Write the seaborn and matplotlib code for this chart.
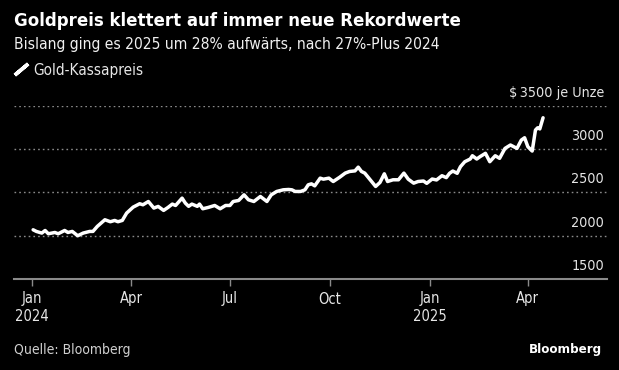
import pandas as pd
import seaborn as sns
import matplotlib.pyplot as plt
import matplotlib.dates as mdates
import matplotlib.transforms as mtransforms
from matplotlib.lines import Line2D

# Gold-Kassapreis in $ je Unze
dates = [
    "2024-01-02", "2024-01-05", "2024-01-10", "2024-01-13", "2024-01-16", "2024-01-22",
    "2024-01-25", "2024-01-31", "2024-02-03", "2024-02-07", "2024-02-12", "2024-02-17",
    "2024-02-23", "2024-02-26", "2024-03-01", "2024-03-08", "2024-03-13", "2024-03-17",
    "2024-03-20", "2024-03-24", "2024-03-28", "2024-04-03", "2024-04-09", "2024-04-12",
    "2024-04-17", "2024-04-22", "2024-04-26", "2024-05-01", "2024-05-05", "2024-05-09",
    "2024-05-12", "2024-05-18", "2024-05-21", "2024-05-24", "2024-05-27", "2024-06-01",
    "2024-06-03", "2024-06-06", "2024-06-11", "2024-06-17", "2024-06-22", "2024-06-27",
    "2024-07-01", "2024-07-04", "2024-07-09", "2024-07-14", "2024-07-18", "2024-07-23",
    "2024-07-29", "2024-08-04", "2024-08-08", "2024-08-13", "2024-08-19", "2024-08-24",
    "2024-08-27", "2024-08-30", "2024-09-04", "2024-09-08", "2024-09-11", "2024-09-14",
    "2024-09-17", "2024-09-22", "2024-09-25", "2024-09-30", "2024-10-04", "2024-10-10",
    "2024-10-15", "2024-10-19", "2024-10-24", "2024-10-27", "2024-10-30", "2024-11-02",
    "2024-11-07", "2024-11-12", "2024-11-16", "2024-11-20", "2024-11-23", "2024-11-28",
    "2024-12-03", "2024-12-08", "2024-12-12", "2024-12-17", "2024-12-21", "2024-12-26",
    "2024-12-29", "2025-01-03", "2025-01-07", "2025-01-12", "2025-01-16", "2025-01-19",
    "2025-01-22", "2025-01-26", "2025-01-29", "2025-02-02", "2025-02-07", "2025-02-09",
    "2025-02-13", "2025-02-16", "2025-02-21", "2025-02-25", "2025-03-02", "2025-03-06",
    "2025-03-11", "2025-03-16", "2025-03-22", "2025-03-26", "2025-03-29", "2025-04-01",
    "2025-04-05", "2025-04-08", "2025-04-10", "2025-04-12", "2025-04-15",
]
gold = [
    2069, 2050, 2031, 2061, 2023, 2038,
    2023, 2061, 2038, 2050, 2000, 2031,
    2050, 2050, 2108, 2185, 2162, 2177,
    2162, 2177, 2262, 2331, 2370, 2358,
    2396, 2320, 2339, 2293, 2327, 2366,
    2350, 2435, 2377, 2340, 2366, 2340,
    2366, 2312, 2327, 2350, 2312, 2350,
    2350, 2396, 2408, 2473, 2416, 2396,
    2454, 2396, 2473, 2512, 2531, 2535,
    2531, 2512, 2512, 2531, 2589, 2600,
    2577, 2666, 2654, 2666, 2627, 2677,
    2724, 2743, 2750, 2793, 2743, 2724,
    2647, 2570, 2616, 2716, 2627, 2647,
    2647, 2724, 2654, 2608, 2627, 2633,
    2606, 2656, 2645, 2694, 2672, 2722,
    2748, 2722, 2798, 2856, 2887, 2925,
    2887, 2914, 2953, 2856, 2925, 2895,
    3010, 3049, 3010, 3106, 3133, 3029,
    2979, 3222, 3248, 3235, 3364,
]

y_ticks = [1500, 2000, 2500, 3000, 3500]
y_labels = ["1500", "2000", "2500", "3000", "$\u20093500 je Unze"]
x_ticks = ["2024-01-01", "2024-04-01", "2024-07-01", "2024-10-01", "2025-01-01", "2025-04-01"]
x_labels = ["Jan\n2024", "Apr", "Jul", "Oct", "Jan\n2025", "Apr"]

df = pd.DataFrame({"Datum": pd.to_datetime(dates), "Gold-Kassapreis": gold})

sns.set_style("dark", {"axes.facecolor": "black", "figure.facecolor": "black"})
plt.rcParams['font.family'] = ['DejaVu Sans']
plt.rcParams['font.stretch'] = 'condensed'

W, H = 619, 370
fig = plt.figure(figsize=(W / 100, H / 100), dpi=100, facecolor="black")
ax = fig.add_axes([14 / W, 1 - 279 / H, (607 - 14) / W, (279 - 106) / H])
ax.set_facecolor("black")

sns.lineplot(data=df, x="Datum", y="Gold-Kassapreis", color="white", lw=2.5, ax=ax)

x0 = mdates.date2num(pd.Timestamp("2024-01-01"))
ax.set_xlim(x0 - 16.6, x0 + 528.8)
ax.set_ylim(1500, 3500)

# Gitterlinien
for v in y_ticks[1:]:
    ax.axhline(v, color="#8a8a8a", lw=1, ls=(0, (1.2, 2.2)), zorder=0)

# Y-Beschriftung oberhalb der Linien, rechts
trans = mtransforms.offset_copy(ax.get_yaxis_transform(), fig=fig, x=0, y=13, units="dots")
for v, lab in zip(y_ticks, y_labels):
    ax.text(0.995, v, lab, transform=trans, ha="right", va="center",
            color="#e6e6e6", fontsize=10.3, clip_on=False)
ax.set_yticks([])
ax.set_ylabel("")
ax.set_xlabel("")

ax.set_xticks(pd.to_datetime(x_ticks))
ax.set_xticklabels(x_labels, color="#e6e6e6", fontsize=10.5, linespacing=1.2)
ax.tick_params(axis="x", length=5, width=1, color="#8a8a8a", pad=4, bottom=True)

for s in ["top", "left", "right"]:
    ax.spines[s].set_visible(False)
ax.spines["bottom"].set_color("#8a8a8a")
ax.spines["bottom"].set_linewidth(1.5)

# Titel, Untertitel, Legende, Fußzeile
fig.text(14 / W, 1 - 21 / H, "Goldpreis klettert auf immer neue Rekordwerte",
         color="white", fontsize=13.3, fontweight="bold", va="center", ha="left")
fig.text(14 / W, 1 - 44 / H, "Bislang ging es 2025 um 28% aufwärts, nach 27%-Plus 2024",
         color="#f0f0f0", fontsize=11.2, va="center", ha="left")

handle = Line2D([], [], color="white", linestyle="none", marker=(2, 2, -50),
                markersize=12.5, markeredgewidth=2.6)
fig.legend(handles=[handle], labels=["Gold-Kassapreis"], loc="center left",
           bbox_to_anchor=(0 / W, 1 - 70 / H), frameon=False, fontsize=11,
           labelcolor="#e6e6e6", handlelength=1.0, handletextpad=0.3)

fig.text(14 / W, 1 - 350 / H, "Quelle: Bloomberg", color="#d0d0d0",
         fontsize=10, va="center", ha="left")
fig.text(602 / W, 1 - 349 / H, "Bloomberg", color="white", fontsize=9.5,
         fontweight="bold", va="center", ha="right")

fig.savefig("out.png", dpi=100, facecolor="black")
